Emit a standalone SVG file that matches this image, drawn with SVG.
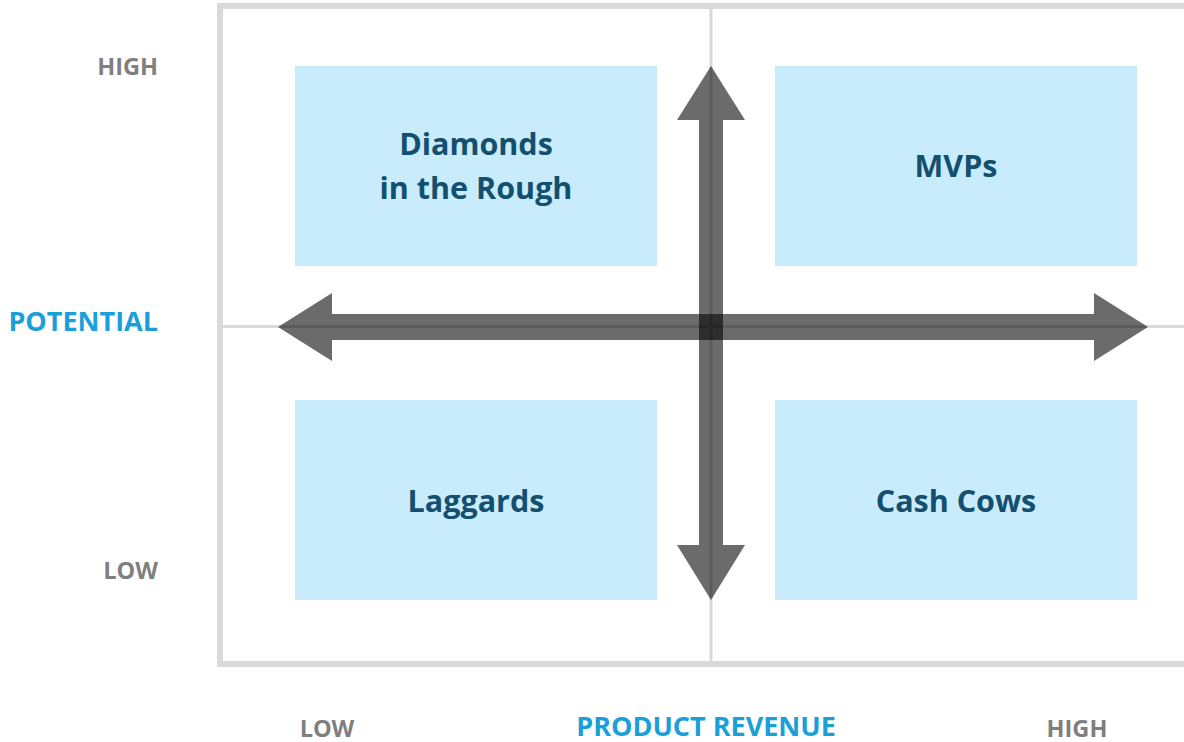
<svg xmlns="http://www.w3.org/2000/svg" width="1184" height="742" viewBox="0 0 1184 742">
<style>
.box{fill:#c9ecfc}
.lbl{font-family:"Open Sans","Liberation Sans",sans-serif;font-weight:700;font-size:30.5px;fill:#134f6e;text-anchor:middle}
.ax{font-family:"Open Sans","Liberation Sans",sans-serif;font-weight:700;font-size:23.5px;fill:#7f7f7f}
.axt{font-family:"Open Sans","Liberation Sans",sans-serif;font-weight:700;font-size:27px;fill:#1a9fd9}
.grid{fill:none;stroke:#d9d9d9}
.arrow{fill:#000;fill-opacity:0.58}
</style>
<rect width="1184" height="742" fill="#fff"/>
<g id="frame">
<path class="grid" stroke-width="6" d="M1190,6 H220 V664 H1190"/>
<line class="grid" stroke-width="3" x1="711" y1="6" x2="711" y2="664"/>
<line class="grid" stroke-width="3" x1="220" y1="326.5" x2="1190" y2="326.5"/>
</g>
<g id="diamonds"><rect class="box" x="295" y="66" width="362" height="200"/><text class="lbl" x="476" y="155">Diamonds</text><text class="lbl" x="476" y="199">in the Rough</text></g>
<g id="mvps"><rect class="box" x="775" y="66" width="362" height="200"/><text class="lbl" x="956" y="177">MVPs</text></g>
<g id="laggards"><rect class="box" x="295" y="400" width="362" height="200"/><text class="lbl" x="476" y="512">Laggards</text></g>
<g id="cashcows"><rect class="box" x="775" y="400" width="362" height="200"/><text class="lbl" x="956" y="512">Cash Cows</text></g>
<g id="connectors">
<path class="arrow" d="M711,66 L745,120 H723 V545 H745 L711,600 L677,545 H699 V120 H677 Z"/>
<path class="arrow" d="M278,327 L332,293 V314 H1094 V293 L1148,327 L1094,361 V340 H332 V361 Z"/>
</g>
<g id="labels">
<text class="ax" x="158" y="75" text-anchor="end">HIGH</text>
<text class="ax" x="158" y="579" text-anchor="end">LOW</text>
<text class="axt" x="158" y="331" text-anchor="end">POTENTIAL</text>
<text class="ax" x="327" y="737" text-anchor="middle">LOW</text>
<text class="ax" x="1077" y="737" text-anchor="middle">HIGH</text>
<text class="axt" x="706" y="736" text-anchor="middle">PRODUCT REVENUE</text>
</g>
</svg>
